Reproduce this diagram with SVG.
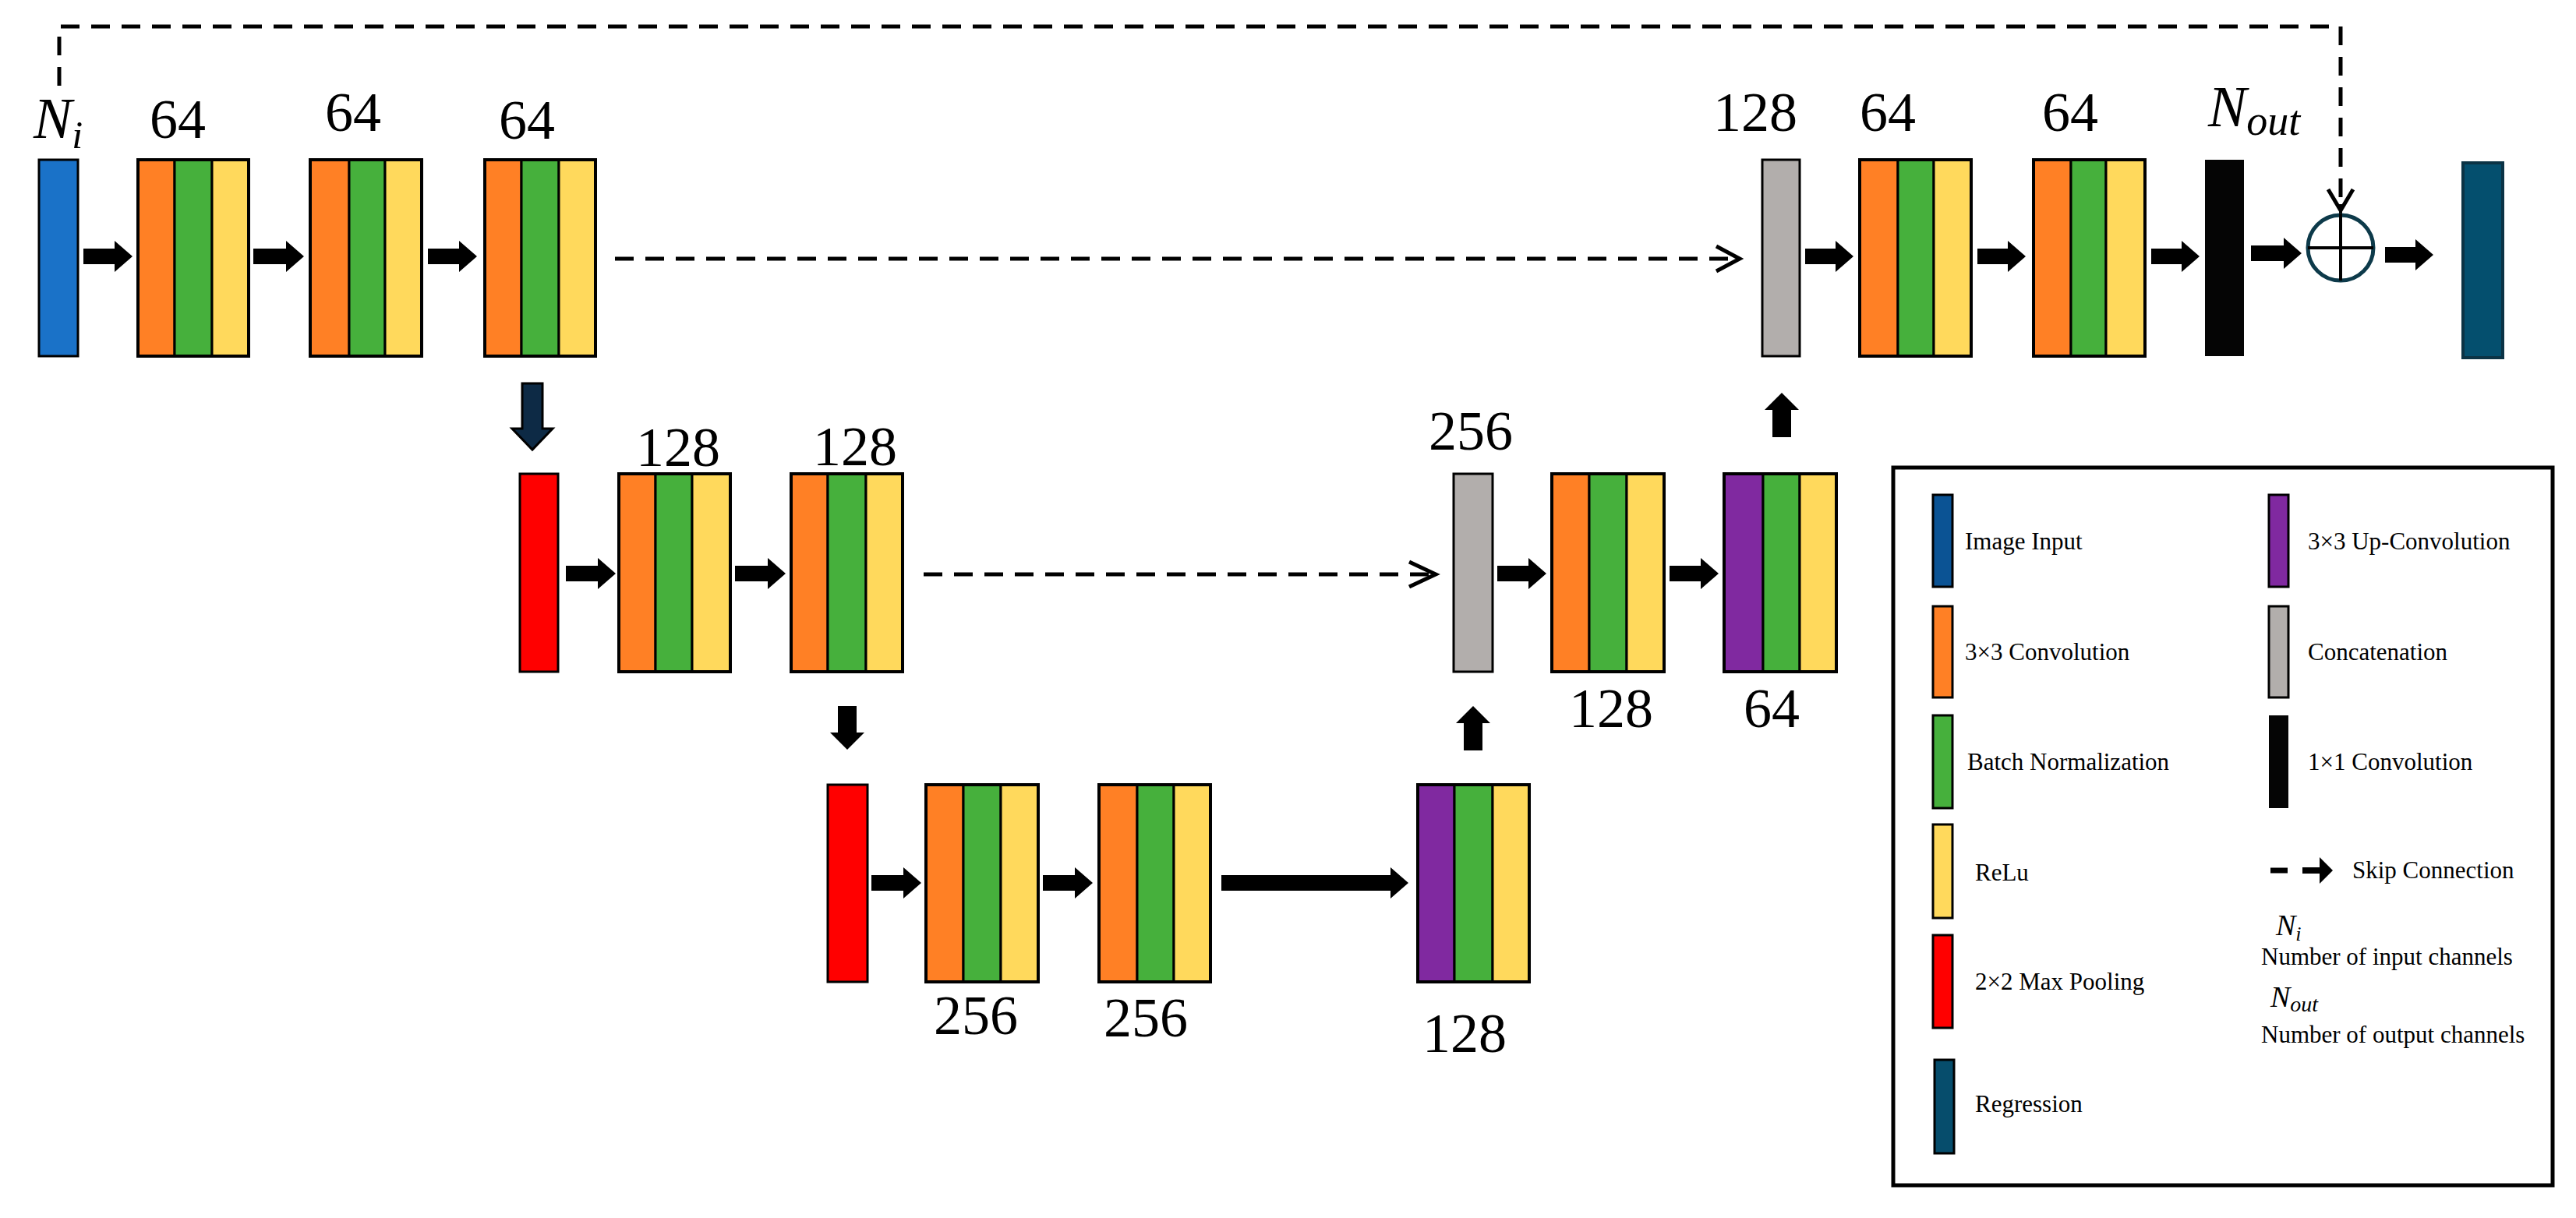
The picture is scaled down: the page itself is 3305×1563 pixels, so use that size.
<svg xmlns="http://www.w3.org/2000/svg" width="3305" height="1563" viewBox="0 0 3305 1563">
<style>
  .s{stroke:#000;stroke-width:3}
  .frame{fill:none;stroke:#000;stroke-width:4}
  .o{fill:#ff8025}
  .g{fill:#46b03c}
  .y{fill:#ffd95c}
  .p{fill:#8029a0}
  .gr{fill:#b2aeac}
  .r{fill:#ff0000}
  .bl{fill:#1a72c8}
  .k{fill:#050505}
  .reg{fill:#044f6e;stroke:#0b3345;stroke-width:4}
  .arr{fill:#000}
  .num{font-family:"Liberation Serif","Times New Roman",serif;font-size:72px;fill:#000}
  .mi{font-family:"Liberation Serif","Times New Roman",serif;font-style:italic;fill:#000}
  .leg{font-family:"Liberation Serif","Times New Roman",serif;font-size:31px;fill:#000}
  .dash{fill:none;stroke:#000;stroke-width:5;stroke-dasharray:24 15}
  .chev{fill:none;stroke:#000;stroke-width:5}
</style>

<g id="connectors">
  <!-- long skip connection -->
  <path class="dash" d="M76,110 V34 H3003 V262"/>
  <polyline class="chev" points="2987,243 3003,270 3019,243" stroke-width="4"/>
  <line x1="3003" y1="262" x2="3003" y2="275" stroke="#000" stroke-width="4"/>
  <!-- top skip -->
  <line class="dash" x1="789" y1="332" x2="2225" y2="332"/>
  <polyline class="chev" points="2202,316 2232,332 2202,348"/>
  <!-- middle skip -->
  <line class="dash" x1="1185" y1="737" x2="1835" y2="737" stroke-dasharray="25 20"/>
  <polyline class="chev" points="1808,721 1842,737 1808,753"/>
  <!-- top row arrows -->
  <polygon class="arr" points="107,319 147,319 147,309 170,329 147,349 147,339 107,339"/>
  <polygon class="arr" points="325,319 367,319 367,309 390,329 367,349 367,339 325,339"/>
  <polygon class="arr" points="549,319 589,319 589,309 612,329 589,349 589,339 549,339"/>
  <polygon class="arr" points="2316,319 2355,319 2355,309 2378,329 2355,349 2355,339 2316,339"/>
  <polygon class="arr" points="2537,319 2576,319 2576,309 2599,329 2576,349 2576,339 2537,339"/>
  <polygon class="arr" points="2760,319 2799,319 2799,309 2822,329 2799,349 2799,339 2760,339"/>
  <polygon class="arr" points="2888,315 2930,315 2930,305 2953,325 2930,345 2930,335 2888,335"/>
  <polygon class="arr" points="3060,317 3099,317 3099,307 3122,327 3099,347 3099,337 3060,337"/>
  <!-- middle row arrows -->
  <polygon class="arr" points="726,726 767,726 767,716 790,736 767,756 767,746 726,746"/>
  <polygon class="arr" points="943,726 985,726 985,716 1008,736 985,756 985,746 943,746"/>
  <polygon class="arr" points="1921,726 1961,726 1961,716 1984,736 1961,756 1961,746 1921,746"/>
  <polygon class="arr" points="2142,726 2182,726 2182,716 2205,736 2182,756 2182,746 2142,746"/>
  <!-- bottom row arrows -->
  <polygon class="arr" points="1118,1123 1159,1123 1159,1113 1182,1133 1159,1153 1159,1143 1118,1143"/>
  <polygon class="arr" points="1338,1123 1379,1123 1379,1113 1402,1133 1379,1153 1379,1143 1338,1143"/>
  <polygon class="arr" points="1567,1123 1784,1123 1784,1113 1807,1133 1784,1153 1784,1143 1567,1143"/>
  <!-- vertical arrows -->
  <polygon points="670,492 696,492 696,550 709,550 683,577 657,550 670,550" fill="#0d2a45" stroke="#000" stroke-width="3"/>
  <polygon class="arr" points="1075,906 1099,906 1099,940 1109,940 1087,962 1065,940 1075,940"/>
  <polygon class="arr" points="2274,561 2298,561 2298,526 2308,526 2286,504 2264,526 2274,526"/>
  <polygon class="arr" points="1878,963 1902,963 1902,928 1912,928 1890,906 1868,928 1878,928"/>
</g>

<!-- top row -->
<g id="input">
  <rect class="bl s" x="50" y="205" width="50" height="252"/>
  <text class="mi" x="43" y="177" font-size="74">N<tspan font-size="50" dy="13">i</tspan></text>
</g>
<g id="enc1a">
  <rect class="o s" x="177" y="205" width="47" height="252"/><rect class="g s" x="224" y="205" width="48" height="252"/><rect class="y s" x="272" y="205" width="47" height="252"/>
  <rect class="frame" x="177" y="205" width="142" height="252"/>
  <text class="num" x="192" y="177">64</text>
</g>
<g id="enc1b">
  <rect class="o s" x="398" y="205" width="50" height="252"/><rect class="g s" x="448" y="205" width="46" height="252"/><rect class="y s" x="494" y="205" width="47" height="252"/>
  <rect class="frame" x="398" y="205" width="143" height="252"/>
  <text class="num" x="417" y="168">64</text>
</g>
<g id="enc1c">
  <rect class="o s" x="622" y="205" width="47" height="252"/><rect class="g s" x="669" y="205" width="48" height="252"/><rect class="y s" x="717" y="205" width="47" height="252"/>
  <rect class="frame" x="622" y="205" width="142" height="252"/>
  <text class="num" x="640" y="178">64</text>
</g>
<g id="concat1">
  <rect class="gr s" x="2261" y="205" width="48" height="252"/>
  <text class="num" x="2198" y="168">128</text>
</g>
<g id="dec1a">
  <rect class="o s" x="2386" y="205" width="49" height="252"/><rect class="g s" x="2435" y="205" width="46" height="252"/><rect class="y s" x="2481" y="205" width="48" height="252"/>
  <rect class="frame" x="2386" y="205" width="143" height="252"/>
  <text class="num" x="2386" y="168">64</text>
</g>
<g id="dec1b">
  <rect class="o s" x="2609" y="205" width="48" height="252"/><rect class="g s" x="2657" y="205" width="45" height="252"/><rect class="y s" x="2702" y="205" width="50" height="252"/>
  <rect class="frame" x="2609" y="205" width="143" height="252"/>
  <text class="num" x="2620" y="168">64</text>
</g>
<g id="conv1x1">
  <rect class="k" x="2829" y="205" width="50" height="252"/>
  <text class="mi" x="2833" y="162" font-size="74">N<tspan font-size="54" dy="11">out</tspan></text>
</g>
<g id="add">
  <circle cx="3003" cy="318" r="42" fill="#fff" stroke="#0d3a4a" stroke-width="5"/>
  <line x1="2961" y1="318" x2="3045" y2="318" stroke="#000" stroke-width="4"/>
  <line x1="3003" y1="274" x2="3003" y2="360" stroke="#000" stroke-width="4"/>
</g>
<g id="output">
  <rect class="reg" x="3160" y="209" width="51" height="250"/>
</g>

<!-- middle row -->
<g id="pool1">
  <rect class="r s" x="667" y="608" width="49" height="254"/>
</g>
<g id="enc2a">
  <rect class="o s" x="794" y="608" width="47" height="254"/><rect class="g s" x="841" y="608" width="47" height="254"/><rect class="y s" x="888" y="608" width="49" height="254"/>
  <rect class="frame" x="794" y="608" width="143" height="254"/>
  <text class="num" x="816" y="598">128</text>
</g>
<g id="enc2b">
  <rect class="o s" x="1015" y="608" width="47" height="254"/><rect class="g s" x="1062" y="608" width="49" height="254"/><rect class="y s" x="1111" y="608" width="47" height="254"/>
  <rect class="frame" x="1015" y="608" width="143" height="254"/>
  <text class="num" x="1043" y="597">128</text>
</g>
<g id="concat2">
  <rect class="gr s" x="1865" y="608" width="50" height="254"/>
  <text class="num" x="1833" y="577">256</text>
</g>
<g id="dec2a">
  <rect class="o s" x="1991" y="608" width="48" height="254"/><rect class="g s" x="2039" y="608" width="48" height="254"/><rect class="y s" x="2087" y="608" width="48" height="254"/>
  <rect class="frame" x="1991" y="608" width="144" height="254"/>
  <text class="num" x="2013" y="933">128</text>
</g>
<g id="up1">
  <rect class="p s" x="2212" y="608" width="50" height="254"/><rect class="g s" x="2262" y="608" width="47" height="254"/><rect class="y s" x="2309" y="608" width="47" height="254"/>
  <rect class="frame" x="2212" y="608" width="144" height="254"/>
  <text class="num" x="2237" y="933">64</text>
</g>

<!-- bottom row -->
<g id="pool2">
  <rect class="r s" x="1062" y="1007" width="51" height="253"/>
</g>
<g id="enc3a">
  <rect class="o s" x="1188" y="1007" width="48" height="253"/><rect class="g s" x="1236" y="1007" width="48" height="253"/><rect class="y s" x="1284" y="1007" width="48" height="253"/>
  <rect class="frame" x="1188" y="1007" width="144" height="253"/>
  <text class="num" x="1198" y="1327">256</text>
</g>
<g id="enc3b">
  <rect class="o s" x="1410" y="1007" width="49" height="253"/><rect class="g s" x="1459" y="1007" width="47" height="253"/><rect class="y s" x="1506" y="1007" width="47" height="253"/>
  <rect class="frame" x="1410" y="1007" width="143" height="253"/>
  <text class="num" x="1416" y="1330">256</text>
</g>
<g id="up2">
  <rect class="p s" x="1819" y="1007" width="47" height="253"/><rect class="g s" x="1866" y="1007" width="49" height="253"/><rect class="y s" x="1915" y="1007" width="47" height="253"/>
  <rect class="frame" x="1819" y="1007" width="143" height="253"/>
  <text class="num" x="1825" y="1350">128</text>
</g>

<!-- legend -->
<g id="legend">
  <rect x="2429" y="600" width="846" height="921" fill="#fff" stroke="#000" stroke-width="5"/>
  <rect x="2480" y="635" width="25" height="118" fill="#0b5394" class="s"/>
  <text class="leg" x="2521" y="705">Image Input</text>
  <rect x="2480" y="778" width="25" height="117" class="o s"/>
  <text class="leg" x="2521" y="847">3×3 Convolution</text>
  <rect x="2480" y="918" width="25" height="119" class="g s"/>
  <text class="leg" x="2524" y="988">Batch Normalization</text>
  <rect x="2480" y="1058" width="25" height="120" class="y s"/>
  <text class="leg" x="2534" y="1130">ReLu</text>
  <rect x="2480" y="1200" width="25" height="119" class="r s"/>
  <text class="leg" x="2534" y="1270">2×2 Max Pooling</text>
  <rect x="2482" y="1360" width="25" height="120" fill="#064d6c" class="s"/>
  <text class="leg" x="2534" y="1427">Regression</text>

  <rect x="2911" y="635" width="25" height="118" class="p s"/>
  <text class="leg" x="2961" y="705">3×3 Up-Convolution</text>
  <rect x="2911" y="778" width="25" height="117" class="gr s"/>
  <text class="leg" x="2961" y="847">Concatenation</text>
  <rect x="2911" y="918" width="25" height="119" class="k"/>
  <text class="leg" x="2961" y="988">1×1 Convolution</text>

  <line x1="2913" y1="1117" x2="2935" y2="1117" stroke="#000" stroke-width="7"/>
  <polygon class="arr" points="2954,1113 2976,1113 2976,1100 2993,1117 2976,1134 2976,1121 2954,1121"/>
  <text class="leg" x="3018" y="1127">Skip Connection</text>
  <text class="mi" x="2920" y="1200" font-size="38">N<tspan font-size="26" dy="7">i</tspan></text>
  <text class="leg" x="2901" y="1238">Number of input channels</text>
  <text class="mi" x="2913" y="1292" font-size="38">N<tspan font-size="28" dy="6">out</tspan></text>
  <text class="leg" x="2901" y="1338">Number of output channels</text>
</g>
</svg>
